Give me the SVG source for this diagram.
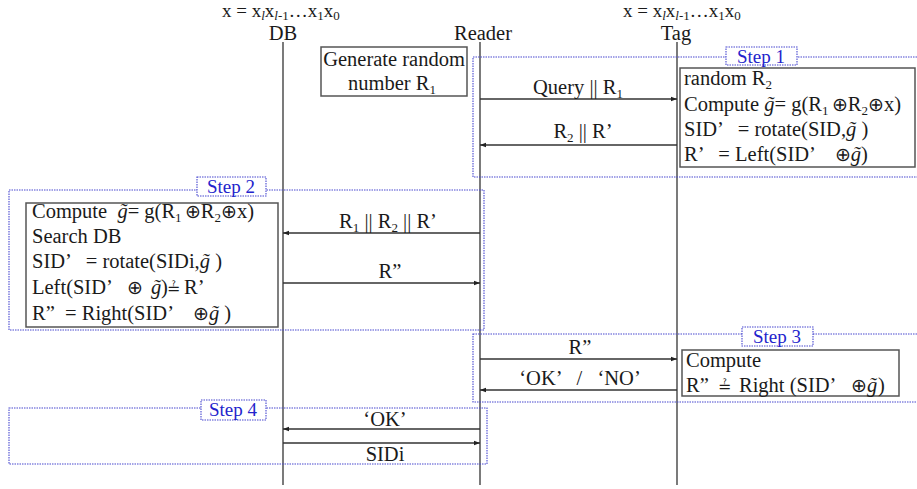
<svg xmlns="http://www.w3.org/2000/svg" width="917" height="489" viewBox="0 0 917 489" font-family="'Liberation Serif', 'Times New Roman', serif">
  <style>
    text { font-family: 'Liberation Serif', 'Times New Roman', serif; fill: #1a1a1a; white-space: pre; }
    .t { font-size: 20.5px; }
    .hd { font-size: 19px; }
    .s { font-size: 13px; }
    .op { font-family: 'DejaVu Sans', sans-serif; font-weight: 200; font-size: 19px; }
    .qe { font-family: 'DejaVu Sans', sans-serif; font-weight: 200; font-size: 16px; }
    .life { stroke: #333; stroke-width: 1.3; fill: none; }
    .msg { stroke: #333; stroke-width: 1.3; fill: none; }
    .box { fill: #fff; stroke: #555; stroke-width: 1.5; }
    .step { fill: none; stroke: #4848d0; stroke-width: 1.1; stroke-dasharray: 1.5 1; }
    .tab { fill: #fff; stroke: #4848d0; stroke-width: 1.1; stroke-dasharray: 1.5 1; }
    .lbl { font-size: 19px; fill: #2323cc; text-anchor: middle; }
    .mid { text-anchor: middle; }
    .it { font-style: italic; }
  </style>
  <defs>
    <marker id="arr" markerWidth="7" markerHeight="6" refX="6" refY="3" orient="auto" markerUnits="userSpaceOnUse">
      <path d="M0,0.8 L6,3 L0,5.2 Z" fill="#222"/>
    </marker>
  </defs>

  <!-- header: secret x and participants -->
  <g id="header">
    <text class="hd" x="222" y="17">x = x<tspan class="s it" dy="3">l</tspan><tspan dy="-3">x</tspan><tspan class="s" dy="3"><tspan class="it">l</tspan>-1</tspan><tspan dy="-3">…x</tspan><tspan class="s" dy="3">1</tspan><tspan dy="-3">x</tspan><tspan class="s" dy="3">0</tspan></text>
    <text class="hd" x="623" y="17">x = x<tspan class="s it" dy="3">l</tspan><tspan dy="-3">x</tspan><tspan class="s" dy="3"><tspan class="it">l</tspan>-1</tspan><tspan dy="-3">…x</tspan><tspan class="s" dy="3">1</tspan><tspan dy="-3">x</tspan><tspan class="s" dy="3">0</tspan></text>
  </g>
  <g id="db">
    <text class="t mid" x="283" y="40">DB</text>
    <line class="life" x1="283" y1="42" x2="283" y2="485"/>
  </g>
  <g id="reader">
    <text class="t mid" x="483" y="40">Reader</text>
    <line class="life" x1="480" y1="42" x2="480" y2="485"/>
  </g>
  <g id="tag">
    <text class="t mid" x="676" y="40">Tag</text>
    <line class="life" x1="677" y1="42" x2="677" y2="485"/>
  </g>

  <!-- step frames -->
  <g id="step1">
    <rect class="step" x="473" y="57" width="450" height="120"/>
    <rect class="tab" x="726" y="47" width="71" height="18"/>
    <text class="lbl" x="761" y="63">Step 1</text>
  </g>
  <g id="step2">
    <rect class="step" x="9" y="190" width="475" height="140"/>
    <rect class="tab" x="197" y="177" width="69" height="19"/>
    <text class="lbl" x="231" y="193">Step 2</text>
  </g>
  <g id="step3">
    <rect class="step" x="473" y="334" width="450" height="68"/>
    <rect class="tab" x="742" y="327" width="71" height="19"/>
    <text class="lbl" x="777" y="343">Step 3</text>
  </g>
  <g id="step4">
    <rect class="step" x="9" y="408" width="478" height="56"/>
    <rect class="tab" x="201" y="400" width="65" height="20"/>
    <text class="lbl" x="233" y="416">Step 4</text>
  </g>

  <!-- reader: nonce generation -->
  <g id="gen-r1">
    <rect class="box" x="321" y="47" width="146" height="49"/>
    <text class="t mid" x="394" y="66">Generate random</text>
    <text class="t mid" x="392" y="90">number R<tspan class="s" dy="4">1</tspan></text>
  </g>

  <!-- tag computation, step 1 -->
  <g id="tag-compute-1">
    <rect class="box" x="680" y="68" width="235" height="99"/>
    <text class="t" x="684" y="85">random R<tspan class="s" dy="4">2</tspan></text>
    <text class="t" x="684" y="111">Compute <tspan class="it">g̃</tspan>= g(R<tspan class="s" dy="4">1 </tspan><tspan class="op" dy="-4">⊕</tspan>R<tspan class="s" dy="4">2</tspan><tspan class="op" dy="-4">⊕</tspan>x)</text>
    <text class="t" x="684" y="136">SID’   = rotate(SID,<tspan class="it">g̃</tspan> )</text>
    <text class="t" x="684" y="161">R’   = Left(SID’    <tspan class="op">⊕</tspan><tspan class="it">g̃</tspan>)</text>
  </g>

  <!-- back-end computation, step 2 -->
  <g id="db-compute">
    <rect class="box" x="26" y="203" width="252" height="124"/>
    <text class="t" x="32" y="218">Compute  <tspan class="it">g̃</tspan>= g(R<tspan class="s" dy="4">1 </tspan><tspan class="op" dy="-4">⊕</tspan>R<tspan class="s" dy="4">2</tspan><tspan class="op" dy="-4">⊕</tspan>x)</text>
    <text class="t" x="32" y="243">Search DB</text>
    <text class="t" x="32" y="268">SID’   = rotate(SIDi,<tspan class="it">g̃</tspan> )</text>
    <text class="t" x="32" y="294">Left(SID’<tspan class="op" x="127">⊕</tspan><tspan class="it" x="151">g̃</tspan><tspan x="161">)</tspan><tspan class="qe" x="167">≟</tspan><tspan x="184">R’</tspan></text>
    <text class="t" x="32" y="320">R”  = Right(SID’    <tspan class="op">⊕</tspan><tspan class="it">g̃</tspan> )</text>
  </g>

  <!-- tag verification, step 3 -->
  <g id="tag-compute-3">
    <rect class="box" x="682" y="350" width="217" height="46"/>
    <text class="t" x="686" y="367">Compute</text>
    <text class="t" x="686" y="392">R”<tspan class="qe" x="718">≟</tspan><tspan x="739">Right (SID’</tspan><tspan class="op" x="851">⊕</tspan><tspan class="it" x="867">g̃</tspan><tspan x="878">)</tspan></text>
  </g>

  <!-- messages -->
  <g id="connectors">
    <line class="msg" x1="480" y1="99" x2="677" y2="99" marker-end="url(#arr)"/>
    <text class="t mid" x="578" y="94">Query || R<tspan class="s" dy="4">1</tspan></text>

    <line class="msg" x1="677" y1="145" x2="480" y2="145" marker-end="url(#arr)"/>
    <text class="t mid" x="583" y="138">R<tspan class="s" dy="4">2</tspan><tspan dy="-4"> || R’</tspan></text>

    <line class="msg" x1="480" y1="233" x2="283" y2="233" marker-end="url(#arr)"/>
    <text class="t mid" x="388" y="228">R<tspan class="s" dy="4">1</tspan><tspan dy="-4"> || R</tspan><tspan class="s" dy="4">2</tspan><tspan dy="-4"> || R’</tspan></text>

    <line class="msg" x1="283" y1="283" x2="480" y2="283" marker-end="url(#arr)"/>
    <text class="t mid" x="390" y="278">R”</text>

    <line class="msg" x1="480" y1="359" x2="677" y2="359" marker-end="url(#arr)"/>
    <text class="t mid" x="580" y="354">R”</text>

    <line class="msg" x1="677" y1="390" x2="480" y2="390" marker-end="url(#arr)"/>
    <text class="t mid" x="580" y="385">‘OK’   /   ‘NO’</text>

    <line class="msg" x1="480" y1="429" x2="283" y2="429" marker-end="url(#arr)"/>
    <text class="t mid" x="385" y="426">‘OK’</text>

    <line class="msg" x1="283" y1="443" x2="480" y2="443" marker-end="url(#arr)"/>
    <text class="t mid" x="385" y="461">SIDi</text>
  </g>
</svg>
